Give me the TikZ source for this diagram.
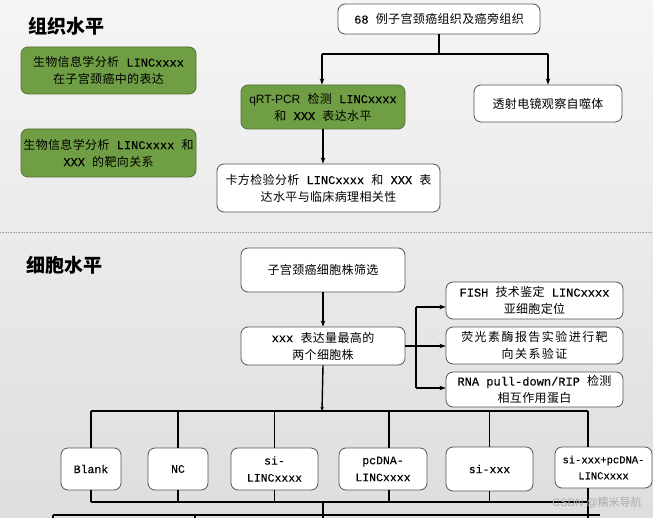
\documentclass[tikz,border=0pt]{standalone}
\usepackage{fontspec}
\setmainfont{Liberation Mono}[FakeBold=0.2]
\newfontfamily\cjk[LetterSpace=3]{Noto Sans CJK SC}
\newfontfamily\cjkt{Noto Sans CJK SC}
\newfontfamily\arialf{Liberation Sans}
\newcommand{\z}[1]{{\cjk #1}}
\usetikzlibrary{arrows.meta}
\definecolor{gfill}{RGB}{112,158,68}
\definecolor{gline}{RGB}{80,112,52}
\definecolor{bline}{RGB}{85,85,85}
\begin{document}
\begin{tikzpicture}[x=1pt,y=-1pt,
  box/.style={draw=bline, line width=0.8pt, rounded corners=7pt, fill=white, align=center, inner sep=0pt, font=\fontsize{12}{17}\selectfont},
  gbox/.style={box, fill=gfill, draw=gline},
  bbox/.style={box, font=\fontsize{11.5}{17}\selectfont},
  cline/.style={line width=1.4pt, black},
  arr/.style={cline, -{Stealth[length=6pt,width=4.5pt]}},
  ttl/.style={font=\cjkt\bfseries\fontsize{19}{19}\selectfont},
]
\useasboundingbox (0,0) rectangle (653,518);
\shade[top color=white!96!black, bottom color=white!87!black] (0,0) rectangle (653,518);
\draw[gray!75, densely dotted, line width=0.6pt] (0,232) -- (653,232);

% titles
\node[ttl] (t1) at (66,26) {组织水平};
\node[ttl] (t2) at (65,265) {细胞水平};

% tissue level
\node[gbox, minimum width=175pt, minimum height=47pt] (g1) at (108.5,70.5) {\z{生物信息学分析} LINCxxxx\\\z{在子宫颈癌中的表达}};
\node[gbox, minimum width=175pt, minimum height=48pt] (g2) at (108.5,153) {\z{生物信息学分析} LINCxxxx \z{和}\\XXX \z{的靶向关系}};
\node[box, minimum width=202pt, minimum height=30pt] (top) at (439,19) {68 \z{例子宫颈癌组织及癌旁组织}};
\node[gbox, minimum width=164pt, minimum height=44pt] (qrt) at (323,107) {{\arialf qRT-PCR} \z{检测} LINCxxxx\\\z{和} XXX \z{表达水平}};
\node[box, minimum width=148pt, minimum height=37pt] (tem) at (548,103.5) {\z{透射电镜观察自噬体}};
\node[box, minimum width=223pt, minimum height=48pt] (chi) at (328.5,188) {\z{卡方检验分析} LINCxxxx \z{和} XXX \z{表}\\\z{达水平与临床病理相关性}};

\coordinate (hL) at (322,54);
\coordinate (hR) at (548,54);
\draw[cline] (top.south) -- (top.south |- hL);
\draw[cline] (hL) -- (hR);
\draw[arr] (hL) -- (hL |- qrt.north);
\draw[arr] (hR) -- (tem.north);
\draw[arr] (qrt.south) -- (qrt.south |- chi.north);

% cell level
\node[box, minimum width=164pt, minimum height=44pt] (sel) at (323,270) {\z{子宫颈癌细胞株筛选}};
\node[box, minimum width=164pt, minimum height=38pt] (xxx) at (323,346) {xxx \z{表达量最高的}\\\z{两个细胞株}};
\node[box, minimum width=177pt, minimum height=37pt] (fish) at (534.5,300.5) {FISH \z{技术鉴定} LINCxxxx\\\z{亚细胞定位}};
\node[box, minimum width=177pt, minimum height=37pt] (luc) at (534.5,345.5) {{\cjk\addfontfeature{LetterSpace=12}荧光素酶报告实验进行靶}\\{\cjk\addfontfeature{LetterSpace=12}向关系验证}};
\node[box, minimum width=177pt, minimum height=35pt] (rna) at (534.5,389.5) {RNA pull-down/RIP \z{检测}\\\z{相互作用蛋白}};

\draw[arr] (sel.south) -- (xxx.north);
\coordinate (sp) at (416,346);
\coordinate (s1) at (416,307);
\coordinate (s3) at (416,388);
\draw[cline] (xxx.east) -- (sp);
\draw[cline] (s1) -- (s3);
\draw[arr] (s1) -- (s1 -| fish.west);
\draw[arr] (sp) -- (sp -| luc.west);
\draw[arr] (s3) -- (s3 -| rna.west);

% groups
\node[bbox, minimum width=60pt, minimum height=42pt] (blank) at (91,469) {Blank};
\node[bbox, minimum width=60pt, minimum height=42pt] (nc) at (178,469) {NC};
\node[bbox, minimum width=87pt, minimum height=42pt] (sil) at (274.5,469) {si-\\LINCxxxx};
\node[bbox, minimum width=88pt, minimum height=42pt] (pc) at (383,469) {pcDNA-\\LINCxxxx};
\node[bbox, minimum width=87pt, minimum height=44pt] (six) at (489.5,469) {si-xxx};
\node[box, font=\fontsize{10.5}{16}\selectfont, minimum width=97pt, minimum height=41pt] (sipc) at (603.5,467.5) {si-xxx+pcDNA-\\LINCxxxx};

\coordinate (t0) at (322,411);
\coordinate (tL) at (91,411);
\coordinate (tR) at (588,411);
\coordinate (pcx) at (389,411);
\draw[cline, -{Stealth[length=4pt,width=3.5pt]}] (xxx.south) -- (t0);
\draw[cline] (tL) -- (tR);
\draw[cline] (tL) -- (blank.north);
\draw[cline] (nc.north |- tL) -- (nc.north);
\draw[cline] (sil.north |- tL) -- (sil.north);
\draw[cline] (pcx) -- (pcx |- pc.north);
\draw[cline] (six.north |- tL) -- (six.north);
\draw[cline] (tR) -- (tR |- sipc.north);

\coordinate (bL) at (91,502);
\coordinate (bR) at (588,502);
\coordinate (bE) at (588,518);
\coordinate (c1) at (323,502);
\coordinate (c2) at (323,518);
\draw[cline] (bL) -- (bR);
\draw[cline] (blank.south) -- (bL);
\draw[cline] (nc.south) -- (nc.south |- bL);
\draw[cline] (sil.south) -- (sil.south |- bL);
\draw[cline] (pcx |- pc.south) -- (pcx |- bL);
\draw[cline] (six.south) -- (six.south |- bL);
\draw[cline] (bR |- sipc.south) -- (bE);
\draw[cline] (c1) -- (c2);

\coordinate (dL) at (53,515);
\coordinate (dR) at (600,515);
\coordinate (dA) at (53,520);
\coordinate (dB) at (195,515);
\coordinate (dC) at (195,520);
\draw[cline] (dL) -- (dR);
\draw[cline] (dL) -- (dA);
\draw[cline] (dB) -- (dC);

% watermark
\node[text=white!35!gray, font=\arialf\fontsize{11}{11}\selectfont] (wm) at (597,503) {CSDN @{\cjkt 糯米导航}};
\end{tikzpicture}
\end{document}
